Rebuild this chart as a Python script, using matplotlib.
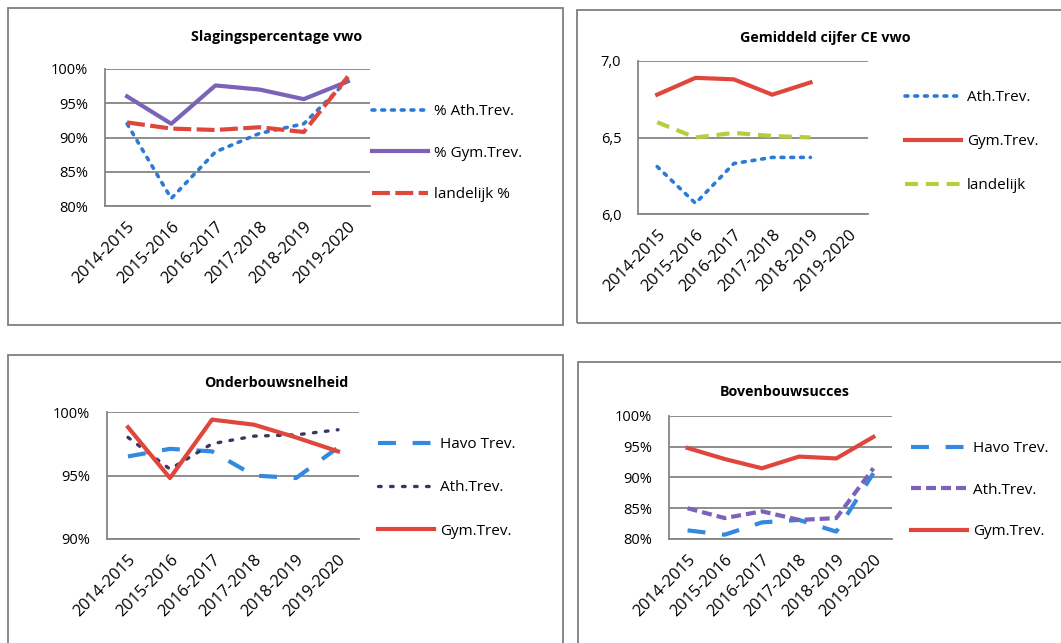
import matplotlib
matplotlib.use("Agg")
import matplotlib.pyplot as plt
from matplotlib.patches import Rectangle
from matplotlib.ticker import FuncFormatter, FixedLocator
from matplotlib.transforms import ScaledTranslation

plt.rcParams['font.family'] = ['Open Sans', 'DejaVu Sans']

years = ["2014-2015", "2015-2016", "2016-2017", "2017-2018", "2018-2019", "2019-2020"]

# Chart 1: Slagingspercentage vwo
slag_ath = [92.0, 81.1, 87.9, 90.6, 92.0, 98.4]
slag_gym = [96.0, 92.0, 97.6, 97.0, 95.6, 98.2]
slag_land = [92.2, 91.3, 91.1, 91.5, 90.8, 98.9]

# Chart 2: Gemiddeld cijfer CE vwo (no 2019-2020 data)
ce_ath = [6.31, 6.07, 6.33, 6.37, 6.37]
ce_gym = [6.78, 6.89, 6.88, 6.78, 6.86]
ce_land = [6.60, 6.50, 6.53, 6.51, 6.50]

# Chart 3: Onderbouwsnelheid
ob_havo = [96.5, 97.1, 96.9, 95.0, 94.8, 97.2]
ob_ath = [98.0, 95.5, 97.5, 98.1, 98.2, 98.6]
ob_gym = [98.8, 94.8, 99.4, 99.0, 98.0, 96.9]

# Chart 4: Bovenbouwsucces
bb_havo = [81.4, 80.7, 82.7, 83.1, 81.2, 90.7]
bb_ath = [85.0, 83.4, 84.5, 83.1, 83.4, 91.5]
bb_gym = [94.8, 93.0, 91.5, 93.4, 93.1, 96.6]

W, H = 1061, 643
fig = plt.figure(figsize=(W / 100, H / 100), dpi=100)
fig.patch.set_facecolor("white")

def frect(l, r, t, b):
    return [l / W, 1 - b / H, (r - l) / W, (b - t) / H]

# Outer boxes
for (l, r, t, b) in [(8, 563, 8, 325), (577, 1075, 10, 323), (8, 563, 355, 660), (578, 1075, 362, 660)]:
    fig.patches.append(Rectangle((l / W, 1 - b / H), (r - l) / W, (b - t) / H,
                                 transform=fig.transFigure, fill=False,
                                 edgecolor="#7f7f7f", lw=1.3))

BLUE = "#2a7bd8"
PURPLE = "#7a63b9"
RED = "#e0473c"
GREEN = "#b4cf3c"
DARKP = "#3e3460"
HAVO = "#3389df"

FS = 10.5
XFS = 11.8
LFS = 11

def setup(ax, ylim, yticks, fmt):
    x = list(range(len(years)))
    ax.set_xlim(-0.5, len(years) - 0.5)
    ax.set_ylim(*ylim)
    ax.yaxis.set_major_locator(FixedLocator(yticks))
    ax.yaxis.set_major_formatter(FuncFormatter(fmt))
    ax.set_xticks(x)
    ax.set_xticklabels(years, rotation=45, ha="right", va="top", rotation_mode="anchor", fontsize=XFS)
    off = ScaledTranslation(3 / 100, 0, fig.dpi_scale_trans)
    for lab in ax.get_xticklabels():
        lab.set_transform(lab.get_transform() + off)
    ax.tick_params(axis="y", length=0, pad=12, labelsize=FS)
    ax.tick_params(axis="x", length=0, pad=9)
    ax.grid(axis="y", color="#858585", lw=1.3)
    ax.set_axisbelow(True)
    for s in ["top", "right"]:
        ax.spines[s].set_visible(False)
    for s in ["left", "bottom"]:
        ax.spines[s].set_color("#858585")
        ax.spines[s].set_linewidth(1.3)
    ax.patch.set_alpha(0)

def legend(ax, x, y, spacing):
    ax.legend(loc="upper left", bbox_to_anchor=(x / W, 1 - y / H), bbox_transform=fig.transFigure,
              frameon=False, fontsize=LFS, handlelength=3.65, handletextpad=0.42,
              labelspacing=spacing, borderpad=0, borderaxespad=0)

pct = lambda v, p: f"{v:.0f}%"
dec = lambda v, p: f"{v:.1f}".replace(".", ",")

x6 = list(range(6))
x5 = list(range(5))

# Chart 1
ax1 = fig.add_axes(frect(105, 370, 69, 206))
setup(ax1, (80, 100), [80, 85, 90, 95, 100], pct)
ax1.plot(x6, slag_ath, color=BLUE, lw=2.6, linestyle=(0, (0.8, 1.9)), dash_capstyle="round", label="% Ath.Trev.")
ax1.plot(x6, slag_gym, color=PURPLE, lw=3.0, label="% Gym.Trev.")
ax1.plot(x6, slag_land, color=RED, lw=3.0, linestyle=(0, (4.3, 1.3)), label="landelijk %")
legend(ax1, 372, 104, 1.75)
fig.text(277 / W, 1 - 37 / H, "Slagingspercentage vwo", ha="center", va="center", fontsize=10.3, fontweight="bold")

# Chart 2
ax2 = fig.add_axes(frect(638, 868, 61, 214))
setup(ax2, (6.0, 7.0), [6.0, 6.5, 7.0], dec)
ax2.plot(x5, ce_ath, color=BLUE, lw=2.6, linestyle=(0, (0.8, 1.9)), dash_capstyle="round", label="Ath.Trev.")
ax2.plot(x5, ce_gym, color=RED, lw=3.0, label="Gym.Trev.")
ax2.plot(x5, ce_land, color=GREEN, lw=3.0, linestyle=(0, (3.1, 1.9)), label="landelijk")
legend(ax2, 905, 90, 1.9)
fig.text(825 / W, 1 - 38 / H, "Gemiddeld cijfer CE vwo", ha="center", va="center", fontsize=10.3, fontweight="bold")

# Chart 3
ax3 = fig.add_axes(frect(107, 359, 412, 539))
setup(ax3, (90, 100), [90, 95, 100], pct)
ax3.plot(x6, ob_havo, color=HAVO, lw=3.0, linestyle=(0, (4.3, 4)), label="Havo Trev.")
ax3.plot(x6, ob_ath, color=DARKP, lw=2.4, linestyle=(0, (0.8, 2.8)), dash_capstyle="round", label="Ath.Trev.")
ax3.plot(x6, ob_gym, color=RED, lw=3.0, label="Gym.Trev.")
legend(ax3, 378, 437, 1.85)
fig.text(276 / W, 1 - 383 / H, "Onderbouwsnelheid", ha="center", va="center", fontsize=10.3, fontweight="bold")

# Chart 4
ax4 = fig.add_axes(frect(669, 892, 416, 539))
setup(ax4, (80, 100), [80, 85, 90, 95, 100], pct)
ax4.plot(x6, bb_havo, color=HAVO, lw=3.0, linestyle=(0, (4.3, 4)), label="Havo Trev.")
ax4.plot(x6, bb_ath, color=PURPLE, lw=3.0, linestyle=(0, (2.4, 1.2)), label="Ath.Trev.")
ax4.plot(x6, bb_gym, color=RED, lw=3.0, label="Gym.Trev.")
legend(ax4, 911, 441, 1.75)
fig.text(785 / W, 1 - 392 / H, "Bovenbouwsucces", ha="center", va="center", fontsize=10.3, fontweight="bold")

fig.savefig("out.png", dpi=100)
